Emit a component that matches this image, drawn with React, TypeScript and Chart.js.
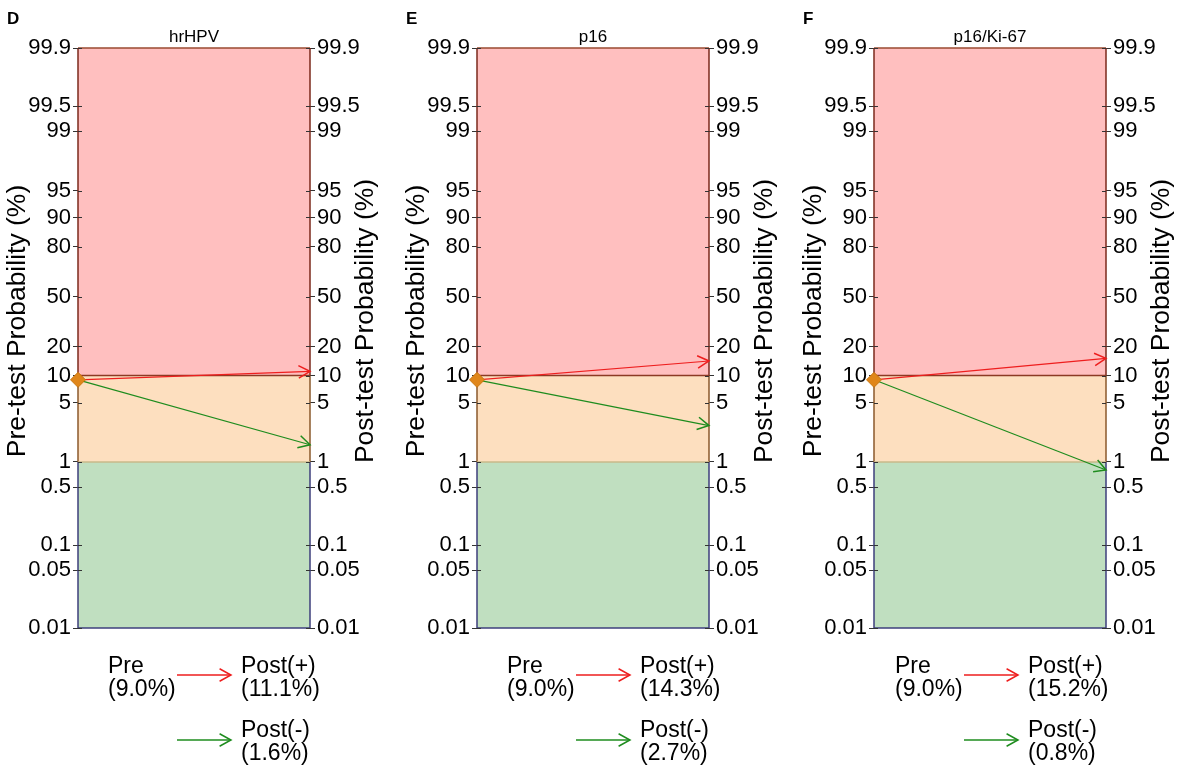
import React, { useEffect, useRef } from 'react';
import { Chart, registerables } from 'chart.js';

Chart.register(...registerables);

// ---------- data ----------
const panelLetters = ['D', 'E', 'F'];
const panelTitles = ['hrHPV', 'p16', 'p16/Ki-67'];
const preProb = [9.0, 9.0, 9.0];
const postPositive = [11.1, 14.3, 15.2];
const postNegative = [1.6, 2.7, 0.8];
const tickValues = [0.01, 0.05, 0.1, 0.5, 1, 5, 10, 20, 50, 80, 90, 95, 99, 99.5, 99.9];
const tickLabels = ['0.01', '0.05', '0.1', '0.5', '1', '5', '10', '20', '50', '80', '90', '95', '99', '99.5', '99.9'];
const bandBounds = [0.01, 1, 10, 99.9]; // green | orange | red zones
const axisMin = 0.01;
const axisMax = 99.9;

// ---------- layout / style ----------
const panelLefts = [0, 399, 796];
const panelWidth = 398;
const panelHeight = 767;
const leftAxisWidth = 78;
const plotWidth = 232;
const legendShift = [0, 0, -9];
const FONT = "'Liberation Sans', Arial, sans-serif";

const bandStyles = [
  { fill: 'rgb(192,223,192)', edge: '#3e3f7c' },
  { fill: 'rgb(253,223,191)', edge: '#8a5a2c' },
  { fill: 'rgb(255,191,191)', edge: '#7c2a1c' },
];
const RED = 'rgb(238,30,30)';
const GREEN = 'rgb(30,140,30)';

const logit = (p: number) => Math.log(p / 100 / (1 - p / 100));
const fmt = (v: number) => v.toFixed(1) + '%';

function arrowHead(ctx: CanvasRenderingContext2D, x0: number, y0: number, x1: number, y1: number, color: string) {
  const ang = Math.atan2(y1 - y0, x1 - x0);
  const len = 13;
  const spread = 0.5;
  ctx.save();
  ctx.strokeStyle = color;
  ctx.lineWidth = 1.5;
  ctx.beginPath();
  ctx.moveTo(x1 - len * Math.cos(ang - spread), y1 - len * Math.sin(ang - spread));
  ctx.lineTo(x1, y1);
  ctx.lineTo(x1 - len * Math.cos(ang + spread), y1 - len * Math.sin(ang + spread));
  ctx.stroke();
  ctx.restore();
}

function makeYAxis(position: 'left' | 'right', width: number) {
  return {
    type: 'linear',
    axis: 'y',
    position,
    min: logit(axisMin),
    max: logit(axisMax),
    afterBuildTicks: (s: any) => {
      s.ticks = tickValues.map((v) => ({ value: logit(v) }));
    },
    afterFit: (s: any) => {
      s.width = width;
    },
    grid: { drawOnChartArea: false, drawTicks: true, tickLength: 5, color: '#333', lineWidth: 1 },
    border: { display: false },
    ticks: {
      autoSkip: false,
      padding: 2,
      color: '#000',
      font: { family: FONT, size: 22 },
      callback: (_v: any, i: number) => tickLabels[i],
    },
  };
}

function Panel({ index }: { index: number }) {
  const ref = useRef<HTMLCanvasElement | null>(null);

  useEffect(() => {
    const canvas = ref.current;
    if (!canvas) return;
    const pre = preProb[index];
    const pos = postPositive[index];
    const neg = postNegative[index];

    const plugin = {
      id: 'nomogram',
      beforeDatasetsDraw(chart: any) {
        const { ctx, chartArea } = chart;
        const { left, right } = chartArea;
        const y = chart.scales.y;
        ctx.save();
        for (let b = 0; b < bandBounds.length - 1; b++) {
          const yLo = y.getPixelForValue(logit(bandBounds[b]));
          const yHi = y.getPixelForValue(logit(bandBounds[b + 1]));
          ctx.fillStyle = bandStyles[b].fill;
          ctx.fillRect(left, yHi, right - left, yLo - yHi);
        }
        ctx.lineWidth = 1.5;
        for (let b = 0; b < bandBounds.length - 1; b++) {
          const yLo = y.getPixelForValue(logit(bandBounds[b]));
          const yHi = y.getPixelForValue(logit(bandBounds[b + 1]));
          ctx.strokeStyle = bandStyles[b].edge;
          ctx.beginPath();
          ctx.moveTo(left, yLo);
          ctx.lineTo(left, yHi);
          ctx.moveTo(right, yLo);
          ctx.lineTo(right, yHi);
          ctx.stroke();
        }
        const hLines = [
          { v: bandBounds[0], c: bandStyles[0].edge },
          { v: bandBounds[1], c: '#c8b98a' },
          { v: bandBounds[2], c: '#8c3a24' },
          { v: bandBounds[3], c: '#9a4a30' },
        ];
        hLines.forEach((h) => {
          const py = y.getPixelForValue(logit(h.v));
          ctx.strokeStyle = h.c;
          ctx.beginPath();
          ctx.moveTo(left, py);
          ctx.lineTo(right, py);
          ctx.stroke();
        });
        ctx.strokeStyle = '#333';
        ctx.lineWidth = 1;
        tickValues.forEach((v) => {
          const py = Math.round(y.getPixelForValue(logit(v))) + 0.5;
          ctx.beginPath();
          ctx.moveTo(left, py);
          ctx.lineTo(left + 4, py);
          ctx.moveTo(right, py);
          ctx.lineTo(right - 4, py);
          ctx.stroke();
        });
        ctx.restore();
      },
      afterDatasetsDraw(chart: any) {
        const { ctx } = chart;
        const x = chart.scales.x;
        const y = chart.scales.y;
        const x0 = x.getPixelForValue(0);
        const x1 = x.getPixelForValue(1);
        const y0 = y.getPixelForValue(logit(pre));
        arrowHead(ctx, x0, y0, x1, y.getPixelForValue(logit(pos)), RED);
        arrowHead(ctx, x0, y0, x1, y.getPixelForValue(logit(neg)), GREEN);
      },
      afterDraw(chart: any) {
        const { ctx, chartArea } = chart;
        const { left, right, top } = chartArea;
        const cx = (left + right) / 2;
        ctx.save();
        ctx.fillStyle = '#000';
        ctx.font = `bold 17px ${FONT}`;
        ctx.textAlign = 'left';
        ctx.textBaseline = 'alphabetic';
        ctx.fillText(panelLetters[index], 7, 24);
        ctx.font = `17px ${FONT}`;
        ctx.textAlign = 'center';
        ctx.fillText(panelTitles[index], cx, 42);
        const titleY = top + 273;
        ctx.font = `26.5px ${FONT}`;
        ctx.textBaseline = 'middle';
        ctx.save();
        ctx.translate(left - 60, titleY);
        ctx.rotate(-Math.PI / 2);
        ctx.fillText('Pre-test Probability (%)', 0, 0);
        ctx.restore();
        ctx.save();
        ctx.translate(right + 56, titleY);
        ctx.rotate(-Math.PI / 2);
        ctx.fillText('Post-test Probability (%)', 0, 0);
        ctx.restore();
        const L = left + legendShift[index];
        ctx.font = `23px ${FONT}`;
        ctx.textAlign = 'left';
        ctx.textBaseline = 'alphabetic';
        ctx.fillText('Pre', L + 30, 673);
        ctx.fillText('(' + fmt(pre) + ')', L + 30, 696);
        ctx.fillText('Post(+)', L + 163, 673);
        ctx.fillText('(' + fmt(pos) + ')', L + 163, 696);
        ctx.fillText('Post(-)', L + 163, 737);
        ctx.fillText('(' + fmt(neg) + ')', L + 163, 760);
        const drawLegArrow = (yy: number, color: string) => {
          ctx.strokeStyle = color;
          ctx.lineWidth = 1.3;
          ctx.beginPath();
          ctx.moveTo(L + 99, yy);
          ctx.lineTo(L + 153, yy);
          ctx.stroke();
          arrowHead(ctx, L + 99, yy, L + 153, yy, color);
        };
        drawLegArrow(675, RED);
        drawLegArrow(740, GREEN);
        ctx.restore();
      },
    };

    const chart = new Chart(canvas, {
      type: 'line',
      data: {
        datasets: [
          {
            label: 'Pre',
            data: [{ x: 0, y: logit(pre) }],
            showLine: false,
            pointStyle: 'rectRot',
            pointRadius: 7.5,
            backgroundColor: '#e0861a',
            borderColor: '#c9760f',
            borderWidth: 1,
            clip: false,
          },
          {
            label: 'Post(+)',
            data: [
              { x: 0, y: logit(pre) },
              { x: 1, y: logit(pos) },
            ],
            borderColor: RED,
            borderWidth: 1.2,
            pointRadius: 0,
            clip: false,
          },
          {
            label: 'Post(-)',
            data: [
              { x: 0, y: logit(pre) },
              { x: 1, y: logit(neg) },
            ],
            borderColor: GREEN,
            borderWidth: 1.2,
            pointRadius: 0,
            clip: false,
          },
        ],
      } as any,
      options: {
        responsive: false,
        animation: false,
        devicePixelRatio: 1,
        layout: { padding: { top: 48, bottom: 139, left: 0, right: 0 } },
        plugins: { legend: { display: false }, tooltip: { enabled: false }, title: { display: false } },
        scales: {
          x: { type: 'linear', min: 0, max: 1, display: false },
          y: makeYAxis('left', leftAxisWidth),
          y2: makeYAxis('right', panelWidth - leftAxisWidth - plotWidth),
        } as any,
      },
      plugins: [plugin],
    });
    return () => chart.destroy();
  }, [index]);

  return (
    <canvas
      ref={ref}
      width={panelWidth}
      height={panelHeight}
      style={{ position: 'absolute', left: panelLefts[index], top: 0, width: panelWidth, height: panelHeight }}
    />
  );
}

export default function App() {
  return (
    <div style={{ position: 'absolute', left: 0, top: 0, width: 1181, height: 767, background: '#fff', overflow: 'hidden' }}>
      {panelTitles.map((_t, i) => (
        <Panel key={i} index={i} />
      ))}
    </div>
  );
}
